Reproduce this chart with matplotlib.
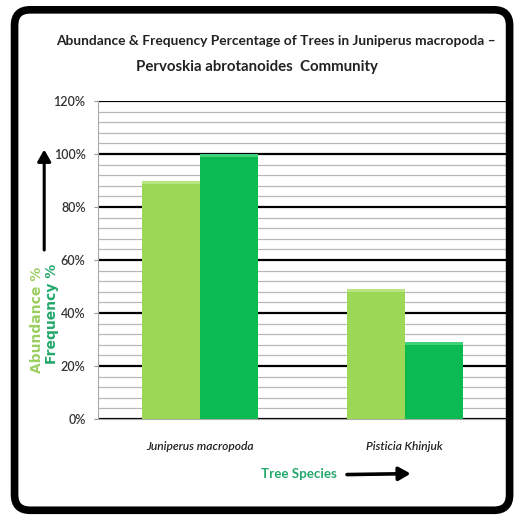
import matplotlib
matplotlib.use("Agg")
import matplotlib.pyplot as plt
from matplotlib.patches import FancyBboxPatch, FancyArrowPatch
from matplotlib.ticker import MultipleLocator, PercentFormatter
import numpy as np

species = ["Juniperus macropoda", "Pisticia Khinjuk"]
abundance = [90, 49]
frequency = [100, 29]
yticks = [0, 20, 40, 60, 80, 100, 120]

LIGHT = "#9CD856"
DARK = "#0BBB52"
FONT = "Lato"

fig = plt.figure(figsize=(5.2, 5.17), dpi=100)
renderer = fig.canvas.get_renderer()


def fit_width(txt, px):
    """shrink/grow a text so its drawn width is px pixels"""
    wd = txt.get_window_extent(renderer).width
    txt.set_fontsize(txt.get_fontsize() * px / wd)


# rounded black frame around the whole chart
frame = FancyBboxPatch((0.028, 0.013), 0.952, 0.968, boxstyle="round,pad=0,rounding_size=0.03",
                       transform=fig.transFigure, fill=False, ec="black", lw=5.5, zorder=0)
fig.patches.append(frame)

ax = fig.add_axes([0.1885, 0.1896, 0.7865, 0.615])
x = np.arange(len(species))
w = 0.284
for xs, vals, col, top in [(x - w / 2, abundance, LIGHT, "#B6E77E"), (x + w / 2, frequency, DARK, "#3FD27A")]:
    ax.bar(xs, vals, w, color=col, edgecolor="none", zorder=3)
    # bevel highlight along the top of each bar
    ax.bar(xs, [1.2] * len(vals), w, bottom=[v - 1.2 for v in vals], color=top, edgecolor="none", zorder=4)

ax.set_xlim(-0.5, 1.5)
ax.set_ylim(0, 120)
ax.set_yticks(yticks)
ax.yaxis.set_major_formatter(PercentFormatter(decimals=0))
ax.yaxis.set_minor_locator(MultipleLocator(4))
ax.grid(True, which="major", axis="y", color="black", lw=1.6, zorder=1)
ax.grid(True, which="minor", axis="y", color="#B8B8B8", lw=0.9, zorder=0.5)
ax.tick_params(axis="y", which="major", length=3, color="#999999", pad=6)
ax.tick_params(axis="y", which="minor", length=0)
for lab in ax.get_yticklabels():
    lab.set(fontsize=9, color="#333333", family=FONT, fontweight="semibold")
ax.set_xticks(x)
ax.set_xticklabels(species, style="italic", fontsize=9, color="#222222", family=FONT,
                   fontweight="semibold")
ax.tick_params(axis="x", length=0, pad=16)
for s in ["top", "right"]:
    ax.spines[s].set_visible(False)
ax.spines["left"].set_color("#AAAAAA")
ax.spines["bottom"].set_color("#AAAAAA")
for lab, px in zip(ax.get_xticklabels(), [108, 77]):
    fit_width(lab, px)

t1 = fig.text(0.531, 0.921, "Abundance & Frequency Percentage of Trees in Juniperus macropoda \u2013",
              ha="center", va="center", fontsize=10, fontweight="bold", color="#222222", family=FONT)
t2 = fig.text(0.494, 0.870, "Pervoskia abrotanoides  Community",
              ha="center", va="center", fontsize=10, fontweight="bold", color="#222222", family=FONT)
fit_width(t1, 440)
fit_width(t2, 243)

# axis captions with arrows
fig.text(0.071, 0.381, "Abundance %", rotation=90, ha="center", va="center",
         fontsize=10, fontweight="bold", color="#9CCF62")
fig.text(0.100, 0.392, "Frequency %", rotation=90, ha="center", va="center",
         fontsize=10, fontweight="bold", color="#22A86A")
fig.patches.append(FancyArrowPatch((0.085, 0.511), (0.085, 0.716), transform=fig.transFigure,
                                   arrowstyle="-|>,head_length=7,head_width=4", lw=2.2, color="black"))
ts = fig.text(0.574, 0.083, "Tree Species", ha="center", va="center",
              fontsize=10, fontweight="bold", color="#22A86A", family=FONT)
fit_width(ts, 76)
fig.patches.append(FancyArrowPatch((0.662, 0.082), (0.795, 0.084), transform=fig.transFigure,
                                   arrowstyle="-|>,head_length=7,head_width=4", lw=2.6, color="black"))

fig.savefig("out.png", dpi=100)
